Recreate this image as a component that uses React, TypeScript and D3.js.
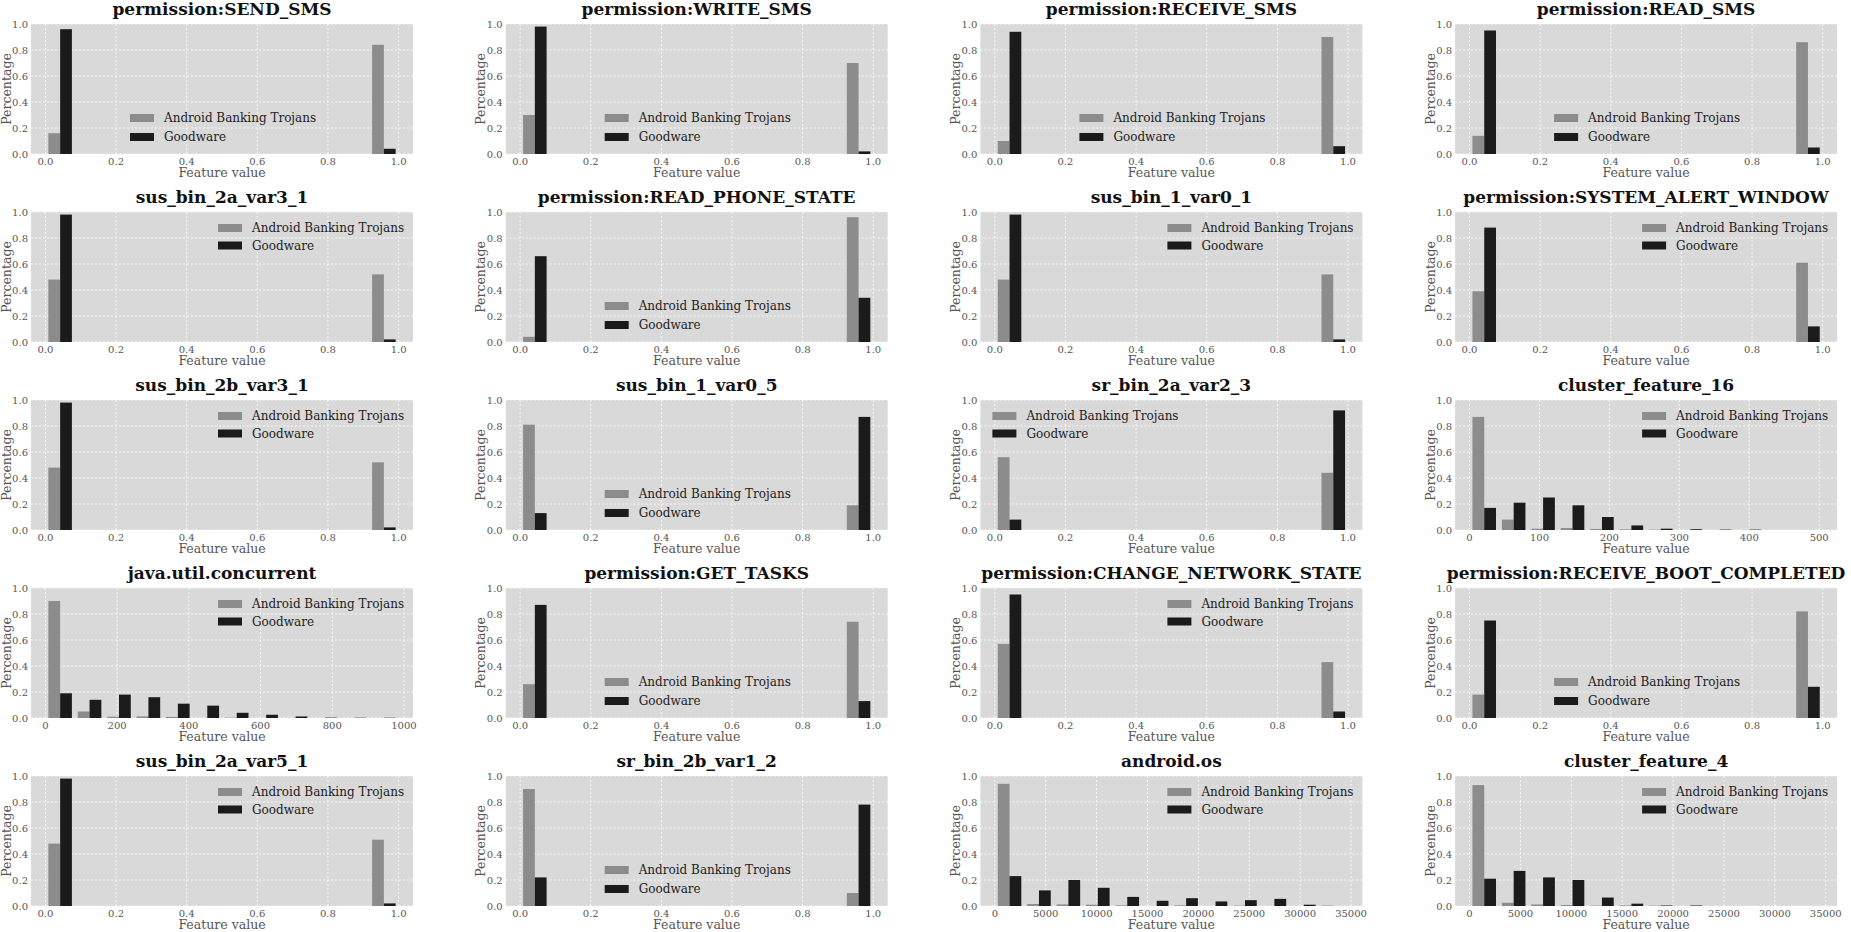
import React from 'react';
import * as d3 from 'd3';

// feature names, one per panel (row by row)
const titles = [
  'permission:SEND_SMS', 'permission:WRITE_SMS', 'permission:RECEIVE_SMS', 'permission:READ_SMS',
  'sus_bin_2a_var3_1', 'permission:READ_PHONE_STATE', 'sus_bin_1_var0_1', 'permission:SYSTEM_ALERT_WINDOW',
  'sus_bin_2b_var3_1', 'sus_bin_1_var0_5', 'sr_bin_2a_var2_3', 'cluster_feature_16',
  'java.util.concurrent', 'permission:GET_TASKS', 'permission:CHANGE_NETWORK_STATE', 'permission:RECEIVE_BOOT_COMPLETED',
  'sus_bin_2a_var5_1', 'sr_bin_2b_var1_2', 'android.os', 'cluster_feature_4',
];

// upper end of the histogram range (lower end is 0)
const xMax = [1, 1, 1, 1, 1, 1, 1, 1, 1, 1, 1, 505, 985, 1, 1, 1, 1, 1, 34700, 34700];
const xTickStep = [0.2, 0.2, 0.2, 0.2, 0.2, 0.2, 0.2, 0.2, 0.2, 0.2, 0.2, 100, 200, 0.2, 0.2, 0.2, 0.2, 0.2, 5000, 5000];
const yTicks = [0, 0.2, 0.4, 0.6, 0.8, 1.0];

const seriesNames = ['Android Banking Trojans', 'Goodware'];

// binary features only fill the first and last of the 12 bins
const bin = (first: number, last: number) => [first, 0, 0, 0, 0, 0, 0, 0, 0, 0, 0, last];

const trojans: number[][] = [
  bin(0.16, 0.84), bin(0.30, 0.70), bin(0.10, 0.90), bin(0.14, 0.86),
  bin(0.48, 0.52), bin(0.04, 0.96), bin(0.48, 0.52), bin(0.39, 0.61),
  bin(0.48, 0.52), bin(0.81, 0.19), bin(0.56, 0.44),
  [0.87, 0.08, 0.01, 0.015, 0.008, 0.005, 0.003, 0, 0, 0, 0, 0],
  [0.90, 0.05, 0.01, 0.012, 0.008, 0, 0.003, 0, 0, 0, 0, 0],
  bin(0.26, 0.74), bin(0.57, 0.43), bin(0.18, 0.82),
  bin(0.48, 0.51), bin(0.90, 0.10),
  [0.94, 0.015, 0.012, 0.01, 0.005, 0, 0.005, 0, 0.003, 0, 0, 0.003],
  [0.93, 0.025, 0.012, 0.008, 0.003, 0.005, 0.003, 0, 0, 0, 0, 0],
];

const goodware: number[][] = [
  bin(0.96, 0.04), bin(0.98, 0.02), bin(0.94, 0.06), bin(0.95, 0.05),
  bin(0.98, 0.02), bin(0.66, 0.34), bin(0.98, 0.02), bin(0.88, 0.12),
  bin(0.98, 0.02), bin(0.13, 0.87), bin(0.08, 0.92),
  [0.17, 0.21, 0.25, 0.19, 0.10, 0.035, 0.01, 0.006, 0.003, 0.003, 0, 0],
  [0.19, 0.14, 0.18, 0.16, 0.11, 0.095, 0.04, 0.025, 0.012, 0.003, 0.002, 0.002],
  bin(0.87, 0.13), bin(0.95, 0.05), bin(0.75, 0.24),
  bin(0.98, 0.02), bin(0.22, 0.78),
  [0.23, 0.12, 0.20, 0.14, 0.07, 0.04, 0.06, 0.035, 0.045, 0.055, 0.01, 0],
  [0.21, 0.27, 0.22, 0.20, 0.065, 0.018, 0.004, 0.004, 0, 0, 0, 0],
];

const legendLoc = [
  'lower', 'lower', 'lower', 'lower',
  'upperRight', 'lower', 'upperRight', 'upperRight',
  'upperRight', 'lower', 'upperLeft', 'upperRight',
  'upperRight', 'lower', 'upperRight', 'lower',
  'upperRight', 'lower', 'upperRight', 'upperRight',
];

const BINS = 12;
const W = 1851;
const H = 932;
const axLeft = 31;
const colStep = 474.7;
const axW = 382;
const axTop = 24;
const rowStep = 188;
const axH = 130;

const FONT = '"DejaVu Serif", serif';
const colors = ['#8c8c8c', '#1b1b1b'];

function Panel({ i }: { i: number }) {
  const c = i % 4;
  const r = Math.floor(i / 4);
  const left = axLeft + c * colStep;
  const top = axTop + r * rowStep;
  const bottom = top + axH;
  const right = left + axW;

  const M = xMax[i];
  const bw = M / BINS;
  const lo = 0.1 * bw;
  const hi = M - 0.1 * bw;
  const span = hi - lo;
  const x = d3.scaleLinear().domain([lo - 0.05 * span, hi + 0.05 * span]).range([left, right]);
  const y = d3.scaleLinear().domain([0, 1]).range([bottom, top]);

  const edges = d3.range(BINS).map(k => k * bw);
  const step = xTickStep[i];
  const [d0, d1] = x.domain();
  const xTicks = d3.range(0, d1 + 1e-9, step).filter(t => t >= d0);
  const fmt = step < 1 ? d3.format('.1f') : d3.format('d');

  const series = [trojans[i], goodware[i]];

  const loc = legendLoc[i];
  let lx: number;
  let ly: number[];
  if (loc === 'upperRight') {
    lx = right - 195;
    ly = [top + 16, top + 33.5];
  } else if (loc === 'upperLeft') {
    lx = left + 12;
    ly = [top + 16, top + 33.5];
  } else {
    lx = (left + right) / 2 - 92;
    ly = [bottom - 36, bottom - 17];
  }

  return (
    <g>
      <rect x={left} y={top} width={axW} height={axH} fill="#d9d9d9" />
      {yTicks.map(t => (
        <line key={'gy' + t} x1={left} x2={right} y1={y(t)} y2={y(t)}
          stroke="#ffffff" strokeWidth={0.8} strokeDasharray="2,2" />
      ))}
      {xTicks.map(t => (
        <line key={'gx' + t} x1={x(t)} x2={x(t)} y1={top} y2={bottom}
          stroke="#ffffff" strokeWidth={0.8} strokeDasharray="2,2" />
      ))}
      {series.map((vals, s) =>
        vals.map((v, k) => (
          v > 0 ? (
            <rect key={s + '-' + k}
              x={x(edges[k] + 0.1 * bw + s * 0.4 * bw)}
              width={x(0.4 * bw) - x(0)}
              y={y(v)}
              height={y(0) - y(v)}
              fill={colors[s]} />
          ) : null
        ))
      )}
      {yTicks.map(t => (
        <text key={'ty' + t} x={left - 3} y={y(t)} dy="0.35em" textAnchor="end"
          fontSize={10} fill="#555555" fontFamily={FONT}>{d3.format('.1f')(t)}</text>
      ))}
      {xTicks.map(t => (
        <text key={'tx' + t} x={x(t)} y={bottom + 11} textAnchor="middle"
          fontSize={10} fill="#555555" fontFamily={FONT}>{fmt(t)}</text>
      ))}
      <text x={(left + right) / 2} y={bottom + 23} textAnchor="middle" fontSize={12.5}
        fill="#555555" fontFamily={FONT}>Feature value</text>
      <text transform={`translate(${left - 20.5},${(top + bottom) / 2}) rotate(-90)`}
        textAnchor="middle" fontSize={12.5} fill="#555555" fontFamily={FONT}>Percentage</text>
      <text x={(left + right) / 2} y={top - 9} textAnchor="middle" fontSize={17}
        fontWeight="bold" fill="#111111" fontFamily={FONT}>{titles[i]}</text>
      {seriesNames.map((name, s) => (
        <g key={name}>
          <rect x={lx} y={ly[s] - 4} width={24} height={8} fill={colors[s]} />
          <text x={lx + 34} y={ly[s]} dy="0.35em" fontSize={12} fill="#222222"
            fontFamily={FONT}>{name}</text>
        </g>
      ))}
    </g>
  );
}

const App: React.FC = () => {
  return (
    <svg width={W} height={H} style={{ position: 'absolute', left: 0, top: 0, background: '#ffffff' }}>
      {titles.map((_, i) => <Panel key={titles[i]} i={i} />)}
    </svg>
  );
};

export default App;
